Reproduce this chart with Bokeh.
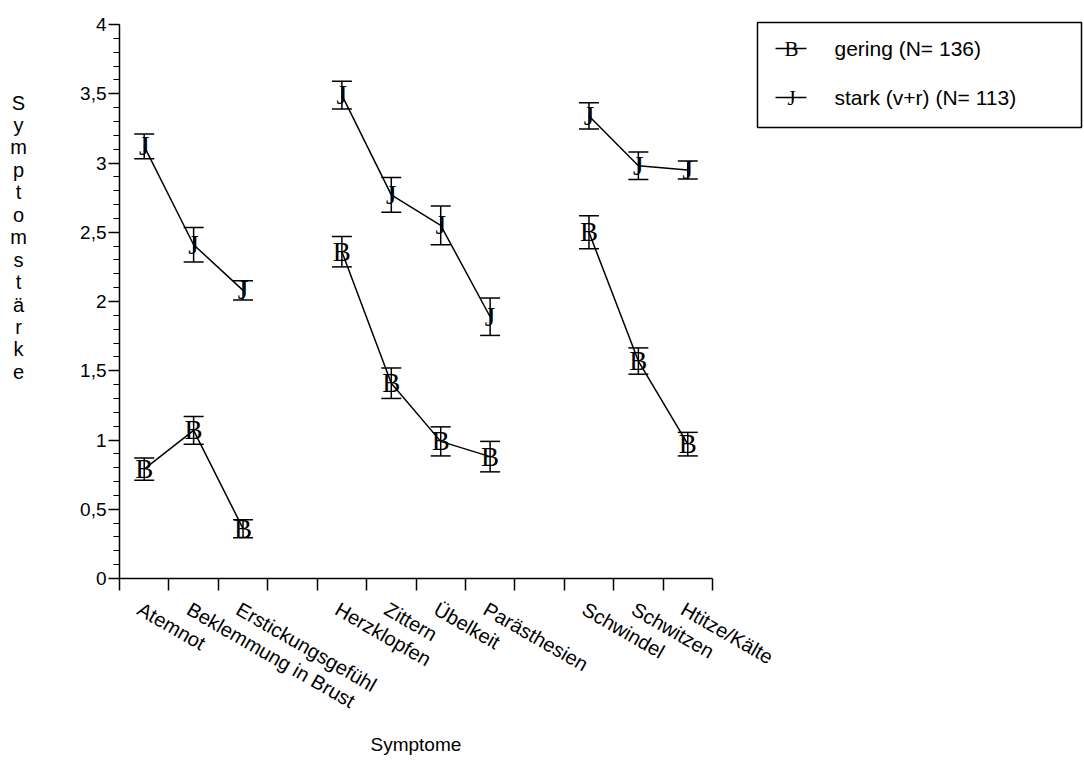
import math
from bokeh.plotting import figure
from bokeh.layouts import row
from bokeh.models import (Range1d, FixedTicker, SingleIntervalTicker, CustomJSTickFormatter,
                          ColumnDataSource, Whisker, TeeHead, Title)
from bokeh.core.properties import value
from bokeh.embed import file_html
from bokeh.resources import INLINE

# ---------------- data ----------------
groups = [
    ["Atemnot", "Beklemmung in Brust", "Erstickungsgefühl"],
    ["Herzklopfen", "Zittern", "Übelkeit", "Parästhesien"],
    ["Schwindel", "Schwitzen", "Htitze/Kälte"],
]
categories = [c for g in groups for c in g]

gering_mean = [0.79, 1.07, 0.36, 2.36, 1.41, 0.99, 0.88, 2.50, 1.57, 0.97]
gering_se = [0.08, 0.10, 0.065, 0.11, 0.11, 0.105, 0.11, 0.12, 0.095, 0.085]
stark_mean = [3.12, 2.41, 2.08, 3.49, 2.77, 2.55, 1.89, 3.34, 2.98, 2.95]
stark_se = [0.09, 0.125, 0.07, 0.10, 0.125, 0.14, 0.135, 0.095, 0.10, 0.065]

series_names = ["gering (N= 136)", "stark (v+r) (N= 113)"]
series_markers = ["B", "J"]
x_title = "Symptome"
y_title = "Symptomstärke"
Y_MIN, Y_MAX = 0, 4

# ---------------- layout constants (page pixels) ----------------
PAGE_W, PAGE_H = 1084, 763
W_TITLE = 50
AX_L, AX_R = 119, 712          # x axis extent
AX_T, AX_B = 24, 578           # y axis extent
FR_T = 8                        # frame top (room for legend)
SANS = "Liberation Sans"
SERIF = "Liberation Serif"

# slot positions: one empty slot between groups
xs = []
slot = 0
for g in groups:
    for _ in g:
        xs.append(slot + 0.5)
        slot += 1
    slot += 1
n_slots = slot - 1

px_per_x = (AX_R - AX_L) / n_slots
px_per_y = (AX_B - AX_T) / (Y_MAX - Y_MIN)

def xd(px):
    return (px - AX_L) / px_per_x

def yd(py):
    return Y_MIN + (AX_B - py) / px_per_y

W_MAIN = PAGE_W - W_TITLE
p = figure(width=W_MAIN, height=PAGE_H,
           x_range=Range1d(0, xd(PAGE_W)), y_range=Range1d(Y_MIN, yd(FR_T)),
           output_backend="svg", toolbar_location=None,
           min_border_left=AX_L - W_TITLE, min_border_right=0,
           min_border_top=FR_T, min_border_bottom=PAGE_H - AX_B)
p.outline_line_color = None
p.grid.visible = False

xa = p.xaxis[0]
xa.bounds = (0, n_slots)
xa.ticker = FixedTicker(ticks=[x - 0.1 for x in xs], minor_ticks=list(range(n_slots + 1)))
xa.major_label_overrides = {x - 0.1: c for x, c in zip(xs, categories)}
xa.major_label_orientation = -math.pi / 6
xa.major_tick_line_color = None
xa.major_tick_out = 0
xa.major_tick_in = 0
xa.minor_tick_out = 12
xa.minor_tick_in = 0
xa.minor_tick_line_width = 1.5
xa.minor_tick_line_color = "black"
xa.axis_line_width = 1.5
xa.axis_line_color = "black"
xa.major_label_standoff = 17
xa.major_label_text_font = SANS
xa.major_label_text_font_size = "20px"
xa.major_label_text_color = "black"

# x title, placed under the bounded axis
p.add_layout(Title(text=x_title, align="left", offset=251, standoff=15,
                   text_font=SANS, text_font_size="19px", text_font_style="normal",
                   text_color="black"), "below")

ya = p.yaxis[0]
ya.bounds = (Y_MIN, Y_MAX)
ya.ticker = SingleIntervalTicker(interval=0.5, num_minor_ticks=5)
ya.formatter = CustomJSTickFormatter(code="return String(tick).replace('.', ',')")
ya.major_tick_out = 11
ya.major_tick_in = 0
ya.minor_tick_out = 6
ya.minor_tick_in = 0
ya.axis_line_width = 1.5
ya.major_tick_line_width = 1.5
ya.minor_tick_line_width = 1.2
ya.axis_line_color = "black"
ya.major_tick_line_color = "black"
ya.minor_tick_line_color = "black"
ya.major_label_text_font = SANS
ya.major_label_text_font_size = "19px"
ya.major_label_text_color = "black"
ya.major_label_standoff = 2

# series
for mean, se, mk in zip([gering_mean, stark_mean], [gering_se, stark_se], series_markers):
    lx, ly = [], []
    i = 0
    for gi, g in enumerate(groups):
        for _ in g:
            lx.append(xs[i]); ly.append(mean[i]); i += 1
        if gi < len(groups) - 1:
            lx.append(float("nan")); ly.append(float("nan"))
    p.line(lx, ly, line_color="black", line_width=1.5)
    src = ColumnDataSource(dict(x=xs, mean=mean,
                                lower=[m - s for m, s in zip(mean, se)],
                                upper=[m + s for m, s in zip(mean, se)],
                                mk=[mk] * len(xs)))
    p.add_layout(Whisker(base="x", lower="lower", upper="upper", source=src,
                         line_color="black", line_width=1.5,
                         upper_head=TeeHead(size=20, line_width=1.5, line_color="black"),
                         lower_head=TeeHead(size=20, line_width=1.5, line_color="black")))
    p.text(x="x", y="mean", text="mk", source=src, text_font=value(SERIF),
           text_font_size="27px", text_align="center", text_baseline="middle", text_color="black")

# legend (inside the wide frame, right of the axes)
p.quad(left=[xd(757)], right=[xd(1081)], top=[yd(22)], bottom=[yd(127)],
       fill_color=None, line_color="black", line_width=1.5)
leg_y = [yd(48 + k * 49) for k in range(len(series_names))]
p.segment(x0=[xd(775)] * 2, x1=[xd(806)] * 2, y0=leg_y, y1=leg_y, line_color="black", line_width=1.5)
p.text(x=[xd(791)] * 2, y=leg_y, text=series_markers, text_font=value(SERIF),
       text_font_size="21px", text_align="center", text_baseline="middle", text_color="black")
p.text(x=[xd(834)] * 2, y=leg_y, text=series_names, text_font=value(SANS),
       text_font_size="21px", text_align="left", text_baseline="middle", text_color="black")

# y title (stacked letters) in a narrow panel on the left
ft = figure(width=W_TITLE, height=PAGE_H, x_range=Range1d(0, W_TITLE), y_range=Range1d(AX_B, FR_T),
            output_backend="svg", toolbar_location=None,
            x_axis_location=None, y_axis_location=None,
            min_border_left=0, min_border_right=0,
            min_border_top=FR_T, min_border_bottom=PAGE_H - AX_B)
ft.outline_line_color = None
ft.grid.visible = False
ft.text(x=[18] * len(y_title), y=[102 + i * 22.45 for i in range(len(y_title))], text=list(y_title),
        text_font=value(SANS), text_font_size="20px", text_align="center",
        text_baseline="middle", text_color="black")

layout = row(ft, p)
open("out.html", "w").write(file_html(layout, INLINE))
